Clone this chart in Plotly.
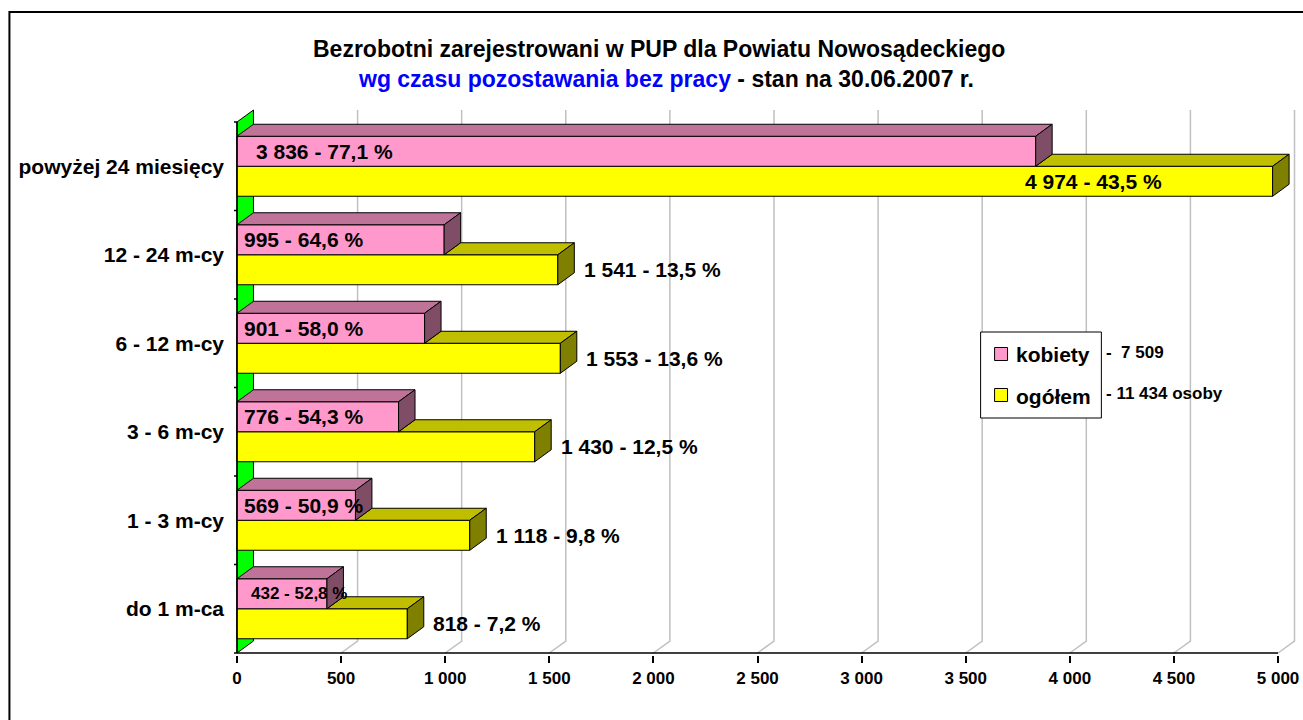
import plotly.graph_objects as go

# ---------------- data ----------------
categories = ["do 1 m-ca", "1 - 3 m-cy", "3 - 6 m-cy", "6 - 12 m-cy",
              "12 - 24 m-cy", "powyżej 24 miesięcy"]
kobiety = [432, 569, 776, 901, 995, 3836]
ogolem = [818, 1118, 1430, 1553, 1541, 4974]
kobiety_pct = ["52,8", "50,9", "54,3", "58,0", "64,6", "77,1"]
ogolem_pct = ["7,2", "9,8", "12,5", "13,6", "13,5", "43,5"]
x_tickvals = [0, 500, 1000, 1500, 2000, 2500, 3000, 3500, 4000, 4500, 5000]
x_ticktext = ["0", "500", "1 000", "1 500", "2 000", "2 500", "3 000",
              "3 500", "4 000", "4 500", "5 000"]
series_names = ["kobiety", "ogółem"]
series_totals = ["-  7 509", "- 11 434 osoby"]
title_line1 = "Bezrobotni zarejestrowani w PUP dla Powiatu Nowosądeckiego"
title_line2a = "wg czasu pozostawania bez pracy"
title_line2b = " - stan na 30.06.2007 r."

# ---------------- geometry / style ----------------
W, H = 1303, 720
FONT = "Liberation Sans, Arial, sans-serif"
PINK, PINK_TOP, PINK_SIDE = "#FF99CC", "#BF7399", "#804D66"
YEL, YEL_TOP, YEL_SIDE = "#FFFF00", "#BFBF00", "#808000"
WALL = "#00FF00"
GRID = "#C0C0C0"

X0PX = 237          # pixel of value 0 (front plane)
KX = 1043 / 5000    # px per unit
PLOT_L, PLOT_R, PLOT_T, PLOT_B = 234, 1299, 109, 655
FRONT_BOTTOM = 653  # pixel of y = -0.5
BAND = 88.5         # px per category
DX = 16.5 / KX      # depth offset in x units
DY = 12 / BAND      # depth offset in y units
BAR_H = 30 / BAND

x_range = [(PLOT_L - X0PX) / KX, (PLOT_R - X0PX) / KX]
y_range = [-0.5 + (FRONT_BOTTOM - PLOT_B) / BAND, -0.5 + (FRONT_BOTTOM - PLOT_T) / BAND]


def pxx(p):
    return (p - PLOT_L) / (PLOT_R - PLOT_L)


def pxy(p):
    return (PLOT_B - p) / (PLOT_B - PLOT_T)


def fmt(v):
    return f"{v:,}".replace(",", " ")


pos = list(range(len(categories)))
n = len(categories)
ytop = n - 0.5
ybot = -0.5

fig = go.Figure()

# front faces (bars)
fig.add_trace(go.Bar(y=pos, x=ogolem, orientation="h", base=0, width=BAR_H,
                     offset=-BAR_H, marker=dict(color=YEL, line=dict(color="black", width=1)),
                     name=series_names[1], showlegend=False, hoverinfo="x+y"))
fig.add_trace(go.Bar(y=pos, x=kobiety, orientation="h", base=0, width=BAR_H,
                     offset=0, marker=dict(color=PINK, line=dict(color="black", width=1)),
                     name=series_names[0], showlegend=False, hoverinfo="x+y"))


def poly_trace(xs, ys, color):
    return go.Scatter(x=xs, y=ys, mode="lines", fill="toself", fillcolor=color,
                      line=dict(color="black", width=1), hoverinfo="skip",
                      showlegend=False)


# yellow visible top faces and sides
xt, yt, xs_, ys_ = [], [], [], []
for c, kv, yv in zip(pos, kobiety, ogolem):
    y0, y1 = c - BAR_H, c
    xt += [kv, yv, yv + DX, kv + DX, kv, None]
    yt += [y1, y1, y1 + DY, y1 + DY, y1, None]
    xs_ += [yv, yv, yv + DX, yv + DX, yv, None]
    ys_ += [y0, y1, y1 + DY, y0 + DY, y0, None]
fig.add_trace(poly_trace(xt, yt, YEL_TOP))
fig.add_trace(poly_trace(xs_, ys_, YEL_SIDE))

# pink top faces and sides
xt, yt, xs_, ys_ = [], [], [], []
for c, kv in zip(pos, kobiety):
    y0, y1 = c, c + BAR_H
    xt += [0, kv, kv + DX, DX, 0, None]
    yt += [y1, y1, y1 + DY, y1 + DY, y1, None]
    xs_ += [kv, kv, kv + DX, kv + DX, kv, None]
    ys_ += [y0, y1, y1 + DY, y0 + DY, y0, None]
fig.add_trace(poly_trace(xt, yt, PINK_TOP))
fig.add_trace(poly_trace(xs_, ys_, PINK_SIDE))

shapes = []
# gridlines on back wall + floor
for v in x_tickvals[1:]:
    shapes.append(dict(type="path", xref="x", yref="y", layer="below",
                       path=f"M {v + DX},{ytop + DY} L {v + DX},{ybot + DY} L {v},{ybot}",
                       line=dict(color=GRID, width=1.5)))
# left green wall
shapes.append(dict(type="path", xref="x", yref="y", layer="below",
                   path=f"M 0,{ybot} L 0,{ytop} L {DX},{ytop + DY} L {DX},{ybot + DY} Z",
                   fillcolor=WALL, line=dict(color="black", width=1)))
# front axis lines
shapes.append(dict(type="line", xref="x", yref="y", x0=0, x1=x_tickvals[-1], y0=ybot, y1=ybot,
                   line=dict(color="black", width=1.5)))
shapes.append(dict(type="line", xref="x", yref="y", x0=0, x1=0, y0=ybot, y1=ytop,
                   line=dict(color="black", width=1.5)))
# category boundary ticks
for i in range(n + 1):
    b = i - 0.5
    shapes.append(dict(type="line", xref="x", yref="y", xsizemode="pixel", xanchor=0,
                       x0=-8, x1=0, y0=b, y1=b, line=dict(color="black", width=1.5)))

# chart border
shapes.append(dict(type="rect", xref="paper", yref="paper",
                   x0=pxx(9), x1=pxx(1312), y0=pxy(12), y1=pxy(730),
                   line=dict(color="black", width=2)))
# legend box and keys
shapes.append(dict(type="rect", xref="paper", yref="paper",
                   x0=pxx(982), x1=pxx(1103), y0=pxy(332), y1=pxy(418),
                   fillcolor="white", line=dict(color="black", width=1)))
for yc, col in [(354, PINK), (395, YEL)]:
    shapes.append(dict(type="rect", xref="paper", yref="paper",
                       x0=pxx(996), x1=pxx(1009), y0=pxy(yc - 6.5), y1=pxy(yc + 6.5),
                       fillcolor=col, line=dict(color="black", width=1)))

ann = []
# title
ann.append(dict(xref="paper", yref="paper", x=pxx(660), y=pxy(49), xanchor="center",
                yanchor="middle", showarrow=False,
                text=f"<b>{title_line1}</b>", font=dict(family=FONT, size=23, color="black")))
ann.append(dict(xref="paper", yref="paper", x=pxx(667), y=pxy(79), xanchor="center",
                yanchor="middle", showarrow=False,
                text=f"<b><span style='color:#0000FF'>{title_line2a}</span>{title_line2b}</b>",
                font=dict(family=FONT, size=23, color="black")))
# legend text
for yc, name, tot in [(354, series_names[0], series_totals[0]), (396, series_names[1], series_totals[1])]:
    ann.append(dict(xref="paper", yref="paper", x=pxx(1015), y=pxy(yc), xanchor="left",
                    yanchor="middle", showarrow=False, text=f"<b>{name}</b>",
                    font=dict(family=FONT, size=21, color="black")))
    ann.append(dict(xref="paper", yref="paper", x=pxx(1106), y=pxy(yc - 2), xanchor="left",
                    yanchor="middle", showarrow=False, text=f"<b>{tot}</b>",
                    font=dict(family=FONT, size=17, color="black")))

# data labels
for i, (c, kv, kp) in enumerate(zip(pos, kobiety, kobiety_pct)):
    small = kv < 500
    shift = 17 if kv > 3000 else (12 if small else 5)
    ann.append(dict(xref="x", yref="y", x=0, y=c + BAR_H / 2, xanchor="left", xshift=shift,
                    yanchor="middle", showarrow=False, text=f"<b>{fmt(kv)} - {kp} %</b>",
                    font=dict(family=FONT, size=17 if small else 21, color="black")))
for i, (c, yv, yp) in enumerate(zip(pos, ogolem, ogolem_pct)):
    if yv > 4000:
        a = dict(x=yv, xanchor="right", xshift=-109)
    else:
        a = dict(x=yv, xanchor="left", xshift=24)
    ann.append(dict(xref="x", yref="y", y=c - BAR_H / 2, showarrow=False, yanchor="middle",
                    text=f"<b>{fmt(yv)} - {yp} %</b>",
                    font=dict(family=FONT, size=21, color="black"), **a))

fig.update_layout(
    width=W, height=H,
    margin=dict(l=PLOT_L, r=W - PLOT_R, t=PLOT_T, b=H - PLOT_B, pad=0),
    paper_bgcolor="white", plot_bgcolor="white",
    barmode="overlay", showlegend=False,
    shapes=shapes, annotations=ann,
    xaxis=dict(range=x_range, tickvals=x_tickvals,
               ticktext=[f"<b>{t}</b>" for t in x_ticktext],
               ticks="outside", ticklen=7, tickcolor="black", tickwidth=1.5,
               showgrid=False, zeroline=False, showline=False,
               tickfont=dict(family=FONT, size=17, color="black"), ticklabelstandoff=1),
    yaxis=dict(range=y_range, tickvals=pos,
               ticktext=[f"<b>{c}</b>" for c in categories],
               ticks="", showgrid=False, zeroline=False, showline=False,
               tickfont=dict(family=FONT, size=21, color="black"), ticklabelstandoff=9),
)

fig.write_html("out.html", config={"displayModeBar": False},
               post_script="document.body.style.margin='0';document.body.style.overflow='hidden';")
